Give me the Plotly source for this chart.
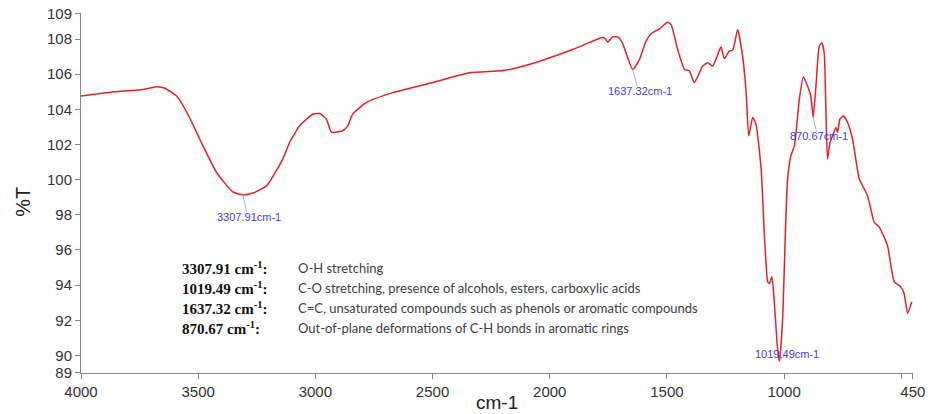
import plotly.graph_objects as go

# ---- data ----
wavenumber = [4000, 3876, 3727, 3676, 3642, 3591, 3544, 3493, 3422, 3352, 3309, 3263, 3208, 3139,
              3109, 3067, 3011, 2981, 2953, 2931, 2905, 2883, 2862, 2841, 2782, 2670, 2512, 2342,
              2228, 2171, 2043, 1903, 1780, 1766, 1752, 1732, 1710, 1690, 1646, 1617, 1589, 1567,
              1532, 1497, 1482, 1454, 1425, 1404, 1383, 1347, 1326, 1305, 1283, 1269, 1255, 1234,
              1219, 1198, 1177, 1162, 1151, 1134, 1120, 1098, 1084, 1070, 1063, 1052, 1042, 1028,
              1020, 1006, 995, 985, 971, 956, 935, 918, 900, 886, 876, 864, 850, 839, 829, 822,
              815, 804, 793, 779, 772, 762, 748, 729, 708, 679, 644, 616, 594, 559, 530, 502,
              488, 473, 455]
transmittance = [104.76, 104.97, 105.14, 105.29, 105.20, 104.74, 103.72, 102.30, 100.42, 99.30,
                 99.13, 99.25, 99.66, 101.17, 102.14, 103.06, 103.72, 103.76, 103.44, 102.69,
                 102.72, 102.78, 103.06, 103.72, 104.39, 104.95, 105.48, 106.08, 106.18, 106.27,
                 106.74, 107.40, 108.07, 108.07, 107.82, 108.12, 108.12, 107.78, 106.27, 106.84,
                 107.88, 108.31, 108.58, 108.95, 108.82, 107.40, 106.27, 106.18, 105.52, 106.46,
                 106.65, 106.46, 107.12, 107.56, 106.88, 107.31, 107.37, 108.54, 107.03, 104.95,
                 102.49, 103.54, 103.16, 100.61, 96.83, 94.19, 94.09, 94.47, 93.05, 90.41,
                 89.65, 92.11, 96.83, 100.04, 101.36, 101.93, 104.57, 105.86, 105.33, 104.76,
                 103.54, 105.33, 107.59, 107.78, 107.22, 104.19, 101.17, 102.12, 102.49, 102.97,
                 102.69, 103.44, 103.63, 103.25, 102.31, 100.04, 99.09, 97.59, 97.30, 96.26,
                 94.19, 93.90, 93.52, 92.39, 93.05]

peak_labels = ["3307.91cm-1", "1637.32cm-1", "870.67cm-1", "1019.49cm-1"]
peak_x = [3309, 1646, 876, 1020]
peak_y = [99.13, 106.27, 103.54, 89.65]
label_x = [3284, 1615, 852, 988]
label_y = [97.89, 105.03, 102.46, 90.07]

legend_keys = ["3307.91", "1019.49", "1637.32", "870.67"]
legend_desc = ["O-H stretching",
               "C-O stretching, presence of alcohols, esters, carboxylic acids",
               "C=C, unsaturated compounds such as phenols or aromatic compounds",
               "Out-of-plane deformations of C-H bonds in aromatic rings"]

x_tick_vals = [4000, 3500, 3000, 2500, 2000, 1500, 1000, 500, 450.5]
x_tick_text = ["4000", "3500", "3000", "2500", "2000", "1500", "1000", "", "450"]
y_top = 109.48
y_tick_vals = [89.01, 90, 92, 94, 96, 98, 100, 102, 104, 106, 108, 109.46]
y_tick_text = ["89", "90", "92", "94", "96", "98", "100", "102", "104", "106", "108", "109"]

# ---- figure ----
fig = go.Figure()
fig.add_trace(go.Scatter(
    x=wavenumber, y=transmittance, mode="lines",
    line=dict(color="#e8202a", width=1.5, shape="spline", smoothing=0.5),
    hoverinfo="x+y", showlegend=False))

# peak leader lines and labels
for px_, py_, lx, ly, txt in zip(peak_x, peak_y, label_x, label_y, peak_labels):
    fig.add_shape(type="line", xref="x", yref="y",
                  x0=px_, y0=py_, x1=px_ + (lx - px_) * 0.6, y1=py_ + (ly - py_) * 0.75,
                  line=dict(color="#aab2e8", width=1))
    fig.add_annotation(x=lx, y=ly, xref="x", yref="y", text=txt, showarrow=False,
                       font=dict(family="Liberation Sans, Arial, sans-serif", size=11,
                                 color="#3c3cf0"),
                       xanchor="center", yanchor="middle")

# legend text block
legend_y = [0.2925, 0.2369, 0.1814, 0.1242]
for key, desc, yy in zip(legend_keys, legend_desc, legend_y):
    fig.add_annotation(x=0.119, y=yy, xref="paper", yref="paper",
                       text="<b>" + key + " cm<sup>-1</sup>:</b>", showarrow=False,
                       font=dict(family="Liberation Serif, Times New Roman, serif", size=15,
                                 color="#111111"),
                       xanchor="left", yanchor="middle")
    fig.add_annotation(x=0.2584, y=yy, xref="paper", yref="paper",
                       text=desc, showarrow=False,
                       font=dict(family="Lato, Noto Sans, sans-serif", size=13,
                                 color="#404040"),
                       xanchor="left", yanchor="middle")

# axis titles as annotations for exact placement
fig.add_annotation(x=0.5, y=-0.083, xref="paper", yref="paper", text="cm-1",
                   showarrow=False, xanchor="center", yanchor="middle",
                   font=dict(family="Liberation Sans, Arial, sans-serif", size=19,
                             color="#222222"))
fig.add_annotation(x=-0.07, y=0.475, xref="paper", yref="paper", text="%T",
                   showarrow=False, xanchor="center", yanchor="middle", textangle=-90,
                   font=dict(family="Liberation Sans, Arial, sans-serif", size=20,
                             color="#222222"))

axis_font = dict(family="Liberation Sans, Arial, sans-serif", size=15, color="#333333")
fig.update_layout(
    width=928, height=414,
    margin=dict(l=81, r=15, t=13, b=41, autoexpand=False),
    paper_bgcolor="white", plot_bgcolor="white",
    xaxis=dict(range=[4000, 450], tickmode="array", tickvals=x_tick_vals,
               ticktext=x_tick_text, ticks="outside", ticklen=5, tickcolor="#888888",
               showline=True, linecolor="#888888", linewidth=1, showgrid=False,
               zeroline=False, tickfont=axis_font, automargin=False),
    yaxis=dict(range=[89, y_top], tickmode="array", tickvals=y_tick_vals,
               ticktext=y_tick_text, ticks="outside", ticklen=5, tickcolor="#888888",
               showline=True, linecolor="#888888", linewidth=1, showgrid=False,
               zeroline=False, tickfont=axis_font, automargin=False),
)

fig.write_html("out.html", config={"displayModeBar": False},
               post_script="document.body.style.margin='0';document.body.style.overflow='hidden';")
